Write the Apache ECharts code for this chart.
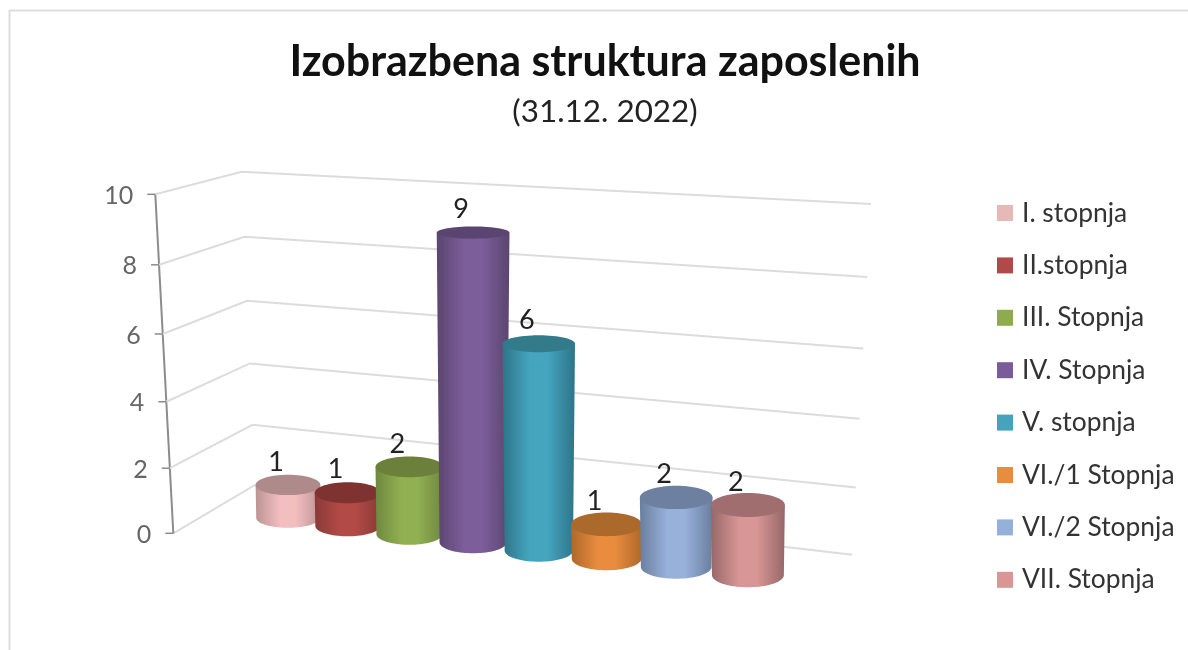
<!DOCTYPE html>
<html>
<head>
<meta charset="utf-8">
<style>html,body{margin:0;padding:0;background:#fff}#c{width:1188px;height:650px}</style>
<script src="https://cdn.jsdelivr.net/npm/echarts@6/dist/echarts.min.js"></script>
</head>
<body>
<div id="c"></div>
<script>
var titleText = 'Izobrazbena struktura zaposlenih';
var subtitleText = '(31.12. 2022)';
var categories = ['I. stopnja','II.stopnja','III. Stopnja','IV. Stopnja','V. stopnja','VI./1 Stopnja','VI./2 Stopnja','VII. Stopnja'];
var values = [1,1,2,9,6,1,2,2];
var yTicks = [0,2,4,6,8,10];
var legendColors = ['#E6B9B8','#B0494A','#8FAB50','#7A5C98','#46A3BC','#E88D3F','#95B0D9','#D99695'];
var centerColors = ['#F2BEC0','#B24A46','#90B052','#7C5E9A','#45A5BF','#E98C3E','#98B1DB','#D99696'];
var edgeColors   = ['#BC9394','#8A3A37','#6F883F','#5B4570','#2E7488','#AD6829','#6A7E9E','#966868'];
var topColors    = ['#AE8A8A','#7E3330','#6B803A','#5A4570','#337A8A','#AB692B','#6E80A0','#A06E6E'];
var FONT = 'Lato';

function warp(t){ return t + 0.05*t*(1-t); }

function renderWall(params, api){
  var cs = params.coordSys, v = api.value(1);
  var f = warp((api.coord([0,v])[1]-cs.y)/cs.height);
  var top = cs.y, h = cs.height;
  var fx = 155.3+18*f, fy = top+h*f;
  var cx = 241.7+13.3*f, cy = top-22.6+h*0.924*f;
  var rx = 871-18.7*f, ry = top+9.7+h*1.035*f;
  var kids = [
    {type:'polyline',shape:{points:[[fx,fy],[cx,cy],[rx,ry]]},style:{fill:null,stroke:'#DCDCDC',lineWidth:2}},
    {type:'line',shape:{x1:fx-8,y1:fy,x2:fx,y2:fy},style:{stroke:'#8C8C8C',lineWidth:1.5}},
    {type:'text',x:fx-22,y:fy+1.5,style:{text:String(v),fontFamily:FONT,fontSize:25,fill:'#666666',align:'right',verticalAlign:'middle'}}
  ];
  if(params.dataIndex===0){
    var y1=top+h;
    kids.push({type:'line',shape:{x1:173.3,y1:y1,x2:155.3,y2:top},style:{stroke:'#8C8C8C',lineWidth:2}});
  }
  return {type:'group',children:kids};
}

function renderCyl(params, api){
  var cs = params.coordSys, idx = api.value(0), v = api.value(1);
  var p = api.coord([idx,v]), p0 = api.coord([idx,0]);
  var band = cs.width/categories.length;
  var i = (p[0]-cs.x)/band-0.5;
  var cx = 288+58.7*i+1.0*i*i;
  var base = p0[1]-15.3+8.14*i;
  var m = 0.975+0.0075*i+0.002*v;
  var topY = base-(p0[1]-p[1])*m;
  var wb = 63.5+1.2*i;
  var wt = wb*(1.012+0.008*v);
  var ryTop = wt*(0.085+(topY-234)*0.000287);
  var ryBase = wb*(0.075+(base-234)*0.00028);
  var pts = [[cx-wt/2,topY],[cx+wt/2,topY]];
  for(var a=0;a<=40;a++){
    var th = Math.PI*a/40;
    pts.push([cx+wb/2*Math.cos(th), base+ryBase*Math.sin(th)]);
  }
  var c = centerColors[idx], e = edgeColors[idx];
  var grad = new echarts.graphic.LinearGradient(0,0,1,0,[
    {offset:0,color:e},{offset:0.38,color:c},{offset:0.62,color:c},{offset:1,color:e}
  ]);
  return {type:'group',children:[
    {type:'polygon',shape:{points:pts},style:{fill:grad}},
    {type:'ellipse',shape:{cx:cx,cy:topY,rx:wt/2,ry:ryTop},style:{fill:topColors[idx]}},
    {type:'text',x:cx-12,y:topY-23,style:{text:String(v),fontFamily:FONT,fontSize:27,fill:'#222222',align:'center',verticalAlign:'middle'}}
  ]};
}

var series = [{
  type:'custom',name:'wall',silent:true,renderItem:renderWall,clip:false,
  data:yTicks.map(function(t){return [0,t];}),encode:{x:0,y:1},z:1
}];
categories.forEach(function(name,k){
  series.push({
    type:'custom',name:name,renderItem:renderCyl,clip:false,
    itemStyle:{color:legendColors[k]},
    data:[[k,values[k]]],encode:{x:0,y:1},z:2
  });
});

var chart = echarts.init(document.getElementById('c'),null,{renderer:'canvas'});
chart.setOption({
  animation:false,
  backgroundColor:'#ffffff',
  title:[
    {text:titleText,left:600,top:36,textAlign:'center',textStyle:{fontFamily:FONT,fontWeight:'bold',fontSize:43,color:'#111111'}},
    {text:subtitleText,left:600,top:91,textAlign:'center',textStyle:{fontFamily:FONT,fontWeight:'normal',fontSize:31.4,color:'#222222'}}
  ],
  grid:{left:255,top:194.3,width:526,height:339,containLabel:false},
  xAxis:{type:'category',data:categories,show:false},
  yAxis:{type:'value',min:0,max:10,interval:2,show:false},
  legend:{
    orient:'vertical',left:997,top:200,padding:0,
    itemWidth:16,itemHeight:16,itemGap:26.4,icon:'rect',
    data:categories,selectedMode:false,
    textStyle:{fontFamily:FONT,fontSize:26.4,color:'#333333',padding:[0,0,0,4]}
  },
  graphic:[
    {type:'line',shape:{x1:9.5,y1:10.5,x2:1188,y2:10.5},style:{stroke:'#DDDDDD',lineWidth:2},silent:true},
    {type:'line',shape:{x1:9.5,y1:10,x2:9.5,y2:650},style:{stroke:'#DDDDDD',lineWidth:2},silent:true}
  ],
  series:series
});
</script>
</body>
</html>
